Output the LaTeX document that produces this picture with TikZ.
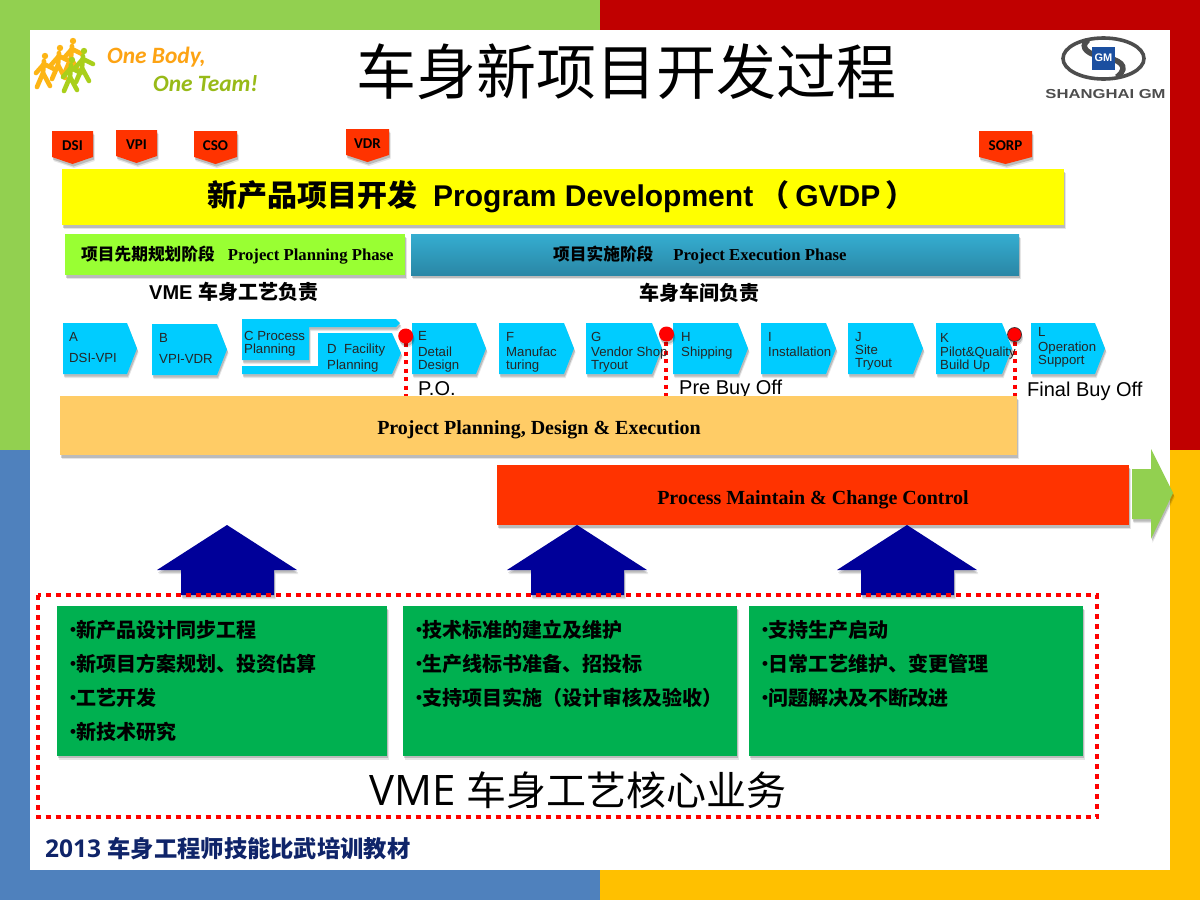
\documentclass[tikz,border=0pt]{standalone}
\usepackage{fontspec}
\setmainfont{Liberation Sans}
\newfontfamily\cjk{Noto Sans CJK SC}
\newfontfamily\calib{Carlito}
\newfontfamily\opens{Open Sans}
\newfontfamily\timesb{Liberation Serif}
\usetikzlibrary{shadows,shapes.geometric}
\definecolor{wingreen}{HTML}{92D050}
\definecolor{winred}{HTML}{C00000}
\definecolor{winblue}{HTML}{4F81BD}
\definecolor{wingold}{HTML}{FFC000}
\definecolor{flagred}{HTML}{FF3300}
\definecolor{stepblue}{HTML}{00CCFF}
\definecolor{planorange}{HTML}{FFCC66}
\definecolor{taskgreen}{HTML}{00B050}
\definecolor{navyup}{HTML}{000099}
\definecolor{limebar}{HTML}{99FF33}
\definecolor{tealtop}{HTML}{35ADD0}
\definecolor{tealbot}{HTML}{2A87A6}
\definecolor{runorange}{HTML}{FDB515}
\definecolor{rungreen}{HTML}{A9CF1B}
\definecolor{pureyellow}{HTML}{FFFF00}
\definecolor{purered}{HTML}{FF0000}
\definecolor{footnavy}{HTML}{0F2469}
\definecolor{gmgray}{HTML}{4D4D4D}
\definecolor{gmblue}{HTML}{1B4FA0}
\tikzset{
  softshadow/.style={drop shadow={shadow xshift=1.5pt,shadow yshift=-4pt,fill=black,opacity=.1},
    drop shadow={shadow xshift=1pt,shadow yshift=-2.5pt,fill=black,opacity=.18}},
  flagbox/.style={fill=flagred,softshadow},
  flagtext/.style={font=\calib\bfseries\fontsize{15}{15}\selectfont,text=black,inner sep=0pt},
  stepbox/.style={fill=stepblue,softshadow},
  steptext/.style={font=\fontsize{13.2}{13.2}\selectfont,align=left,anchor=north west,inner sep=0pt,text=black!85},
  pinball/.style={circle,fill=purered,minimum size=15pt,inner sep=0pt,softshadow},
  pinline/.style={draw=purered,line width=4pt,dash pattern=on 4pt off 4.5pt},
  cntext/.style={font=\cjk\bfseries\fontsize{20}{24}\selectfont,align=left,anchor=north west,inner sep=0pt},
  taskbox/.style={fill=taskgreen,minimum height=149.5pt,inner sep=0pt,anchor=north west,softshadow},
  upbox/.style={fill=navyup,softshadow},
  buyoff/.style={font=\fontsize{20}{20}\selectfont,inner sep=0pt,anchor=base west},
  runner/.style={line cap=round,line join=round,line width=4.6pt},
}
\newcommand{\bul}{{\rmfamily\fontsize{17}{17}\selectfont\raisebox{2pt}{•}}\kern.5pt}
% one flag on top of the yellow bar
\newcommand{\flag}[5]{
  \path[flagbox] (#1,#2) -- (#1+#3,#2) -- (#1+#3,#2+26) -- (#1+#3/2,#2+33) -- (#1,#2+26) -- cycle;
  \node[flagtext] (#4) at (#1+#3/2,#2+14.5) {#5};
}
% one step of the process row
\newcommand{\stepshape}[6]{
  \path[stepbox] (#1,#2) -- (#3-10,#2) -- (#3,#2+25.5) -- (#3-10,#2+51) -- (#1,#2+51) -- cycle;
  \node[steptext] (#4) at (#1+#5,#2+#6) 
}
\begin{document}
\begin{tikzpicture}[x=1pt,y=-1pt]
\useasboundingbox (0,0) rectangle (1200,900);
% window background
\fill[wingreen] (0,0) rectangle (600,450);
\fill[winred] (600,0) rectangle (1200,450);
\fill[winblue] (0,450) rectangle (600,900);
\fill[wingold] (600,450) rectangle (1200,900);
\fill[white] (30,30) rectangle (1170,870);

% logo left
\foreach \hx/\hy/\col in {45/56/runorange,60/48/runorange,73/41/runorange,72/60/rungreen,84/51/rungreen}{
  \fill[\col] (\hx,\hy) circle (3.2pt);
  \draw[runner,\col] (\hx-1,\hy+5) -- (\hx-2,\hy+17) -- (\hx-8,\hy+31);
  \draw[runner,\col] (\hx-2,\hy+17) -- (\hx+5,\hy+30);
  \draw[runner,\col] (\hx-9,\hy+17) -- (\hx-1,\hy+8) -- (\hx+9,\hy+13);
}
\node[font=\calib\bfseries\itshape\fontsize{23.4}{23.4}\selectfont,text=runorange!90!red,anchor=base west,inner sep=0pt] (bodytext) at (107,63) {One Body,};
\node[font=\calib\bfseries\itshape\fontsize{23.4}{23.4}\selectfont,text=rungreen!90!black,anchor=base west,inner sep=0pt] (teamtext) at (153,91) {One Team!};

% title
\node[font=\cjk\fontsize{60}{60}\selectfont,inner sep=0pt] (title) at (626,72) {车身新项目开发过程};

% logo right
\draw[gmgray,line width=3.6pt] (1103.5,58.5) ellipse (40.5pt and 20.5pt);
\draw[gmgray,line width=5.5pt] (1088,40) .. controls (1078,48) and (1090,55) .. (1103,57) .. controls (1118,59) and (1131,66) .. (1117,77);
\fill[gmblue] (1092,47) rectangle (1115,70);
\node[font=\bfseries\fontsize{11}{11}\selectfont,text=white,inner sep=0pt] (gmtext) at (1103.5,58) {GM};
\node[font=\bfseries\fontsize{13}{13}\selectfont,text=gmgray,inner sep=0pt,anchor=base] (sgmtext) at (1105.5,98) {\scalebox{1.28}[1]{SHANGHAI GM}};

% flags
\flag{52}{131}{41}{dsi}{DSI}
\flag{116}{130}{41}{vpi}{VPI}
\flag{194}{131}{43}{cso}{CSO}
\flag{346}{129}{43}{vdr}{VDR}
\flag{979}{131}{53}{sorp}{SORP}

% main bars
\path[fill=pureyellow,softshadow] (62,169) rectangle (1064,225);
\node[font=\bfseries\fontsize{30}{30}\selectfont,inner sep=0pt,anchor=west] (gvdp) at (207,196.5) {{\cjk\bfseries 新产品项目开发}\hspace{16pt}Program Development\hspace{6pt}{\cjk\bfseries（}\hspace{6pt}GVDP\hspace{5pt}{\cjk\bfseries ）}};
\path[fill=limebar,softshadow] (65,234) rectangle (405,275);
\node[font=\timesb\bfseries\fontsize{16.7}{17}\selectfont,inner sep=0pt,anchor=west] (planphase) at (81,255) {{\cjk\bfseries 项目先期规划阶段}\hspace{13pt}Project Planning Phase};
\path[top color=tealtop,bottom color=tealbot,softshadow] (411,234) rectangle (1019,275);
\node[font=\timesb\bfseries\fontsize{16.7}{17}\selectfont,inner sep=0pt,anchor=west] (execphase) at (553,255) {{\cjk\bfseries 项目实施阶段}\hspace{20pt}Project Execution Phase};
\node[font=\bfseries\fontsize{20}{20}\selectfont,inner sep=0pt,anchor=west] (vmeresp) at (149,292) {VME {\cjk\bfseries 车身工艺负责}};
\node[font=\cjk\bfseries\fontsize{20}{20}\selectfont,inner sep=0pt] (shopresp) at (699,293) {车身车间负责};

% dotted lines under the pins
\coordinate (potop) at (405.7,343);
\coordinate (pretop) at (666,342);
\coordinate (finaltop) at (1014.7,342);
\coordinate (pofoot) at (405.7,396);
\coordinate (prefoot) at (666,396);
\coordinate (finalfoot) at (1014.7,396);
\draw[pinline] (potop) -- (pofoot);
\draw[pinline] (pretop) -- (prefoot);
\draw[pinline] (finaltop) -- (finalfoot);

% steps
\stepshape{63}{323}{137}{stepa}{6}{9}{A\\[8pt]DSI-VPI};
\stepshape{152}{324}{227}{stepb}{7}{9}{B\\[8pt]VPI-VDR};
\path[stepbox] (242,319) -- (396,319) -- (400,323) -- (396,327) -- (309,327) -- (309,360) -- (242,360) -- cycle;
\path[stepbox] (242,366) -- (318,366) -- (318,333) -- (392,333) -- (401,353) -- (392,374) -- (242,374) -- cycle;
\node[steptext] (stepc) at (244,331) {C Process\\Planning};
\node[steptext] (stepd) at (327,344) {D\ \ Facility\\[3pt]Planning};
\stepshape{412}{323}{486}{stepe}{6}{8}{E\\[3pt]Detail\\Design};
\stepshape{499}{323}{574}{stepf}{7}{9}{F\\[2pt]Manufac\\turing};
\stepshape{586}{323}{662}{stepg}{5}{9}{G\\[2pt]Vendor Shop\\Tryout};
\stepshape{673}{323}{748}{steph}{8}{9}{H\\[2pt]Shipping};
\stepshape{761}{323}{836}{stepi}{7}{9}{I\\[2pt]Installation};
\stepshape{848}{323}{923}{stepj}{7}{9}{J\\Site\\Tryout};
\stepshape{936}{323}{1012}{stepk}{4}{10}{K\\[1pt]Pilot\&Quality\\Build Up};
\stepshape{1031}{323}{1105}{stepl}{7}{4}{L\\[2pt]Operation\\Support};

% pins
\node[pinball] (pinpo) at (405.7,336) {};
\node[pinball] (pinpre) at (666.5,334) {};
\node[pinball,draw=black!80,line width=.7pt,minimum size=14pt] (pinfinal) at (1014.5,334.5) {};
\node[buyoff] (potext) at (418,395) {P.O.};
\node[buyoff] (pretext) at (679,394) {Pre Buy Off};
\node[buyoff] (finaltext) at (1027,396) {Final Buy Off};

% lower bars
\path[fill=planorange,softshadow] (60,396) rectangle (1017,455);
\node[font=\timesb\bfseries\fontsize{20}{20}\selectfont,inner sep=0pt] (plantext) at (539,430) {Project Planning, Design \& Execution};
\path[fill=flagred,softshadow] (497,465) rectangle (1129,525);
\node[font=\timesb\bfseries\fontsize{20}{20}\selectfont,inner sep=0pt] (maintext) at (813,499.5) {Process Maintain \& Change Control};
\path[fill=wingreen,softshadow] (1132,469) -- (1151,469) -- (1151,449) -- (1173,493) -- (1151,539) -- (1151,519) -- (1132,519) -- cycle;

% up arrows
\foreach \ux in {227,577,907}{
  \path[upbox] (\ux-70,570) -- (\ux,525) -- (\ux+70,570) -- (\ux+47,570) -- (\ux+47,595) -- (\ux-46,595) -- (\ux-46,570) -- cycle;
}

% green boxes
\node[taskbox,minimum width=330pt] (taska) at (57,606) {};
\node[taskbox,minimum width=334pt] (taskb) at (403,606) {};
\node[taskbox,minimum width=334pt] (taskc) at (749,606) {};
\node[cntext] (texta) at (70,620) {\bul 新产品设计同步工程\\[10pt]\bul 新项目方案规划、投资估算\\[10pt]\bul 工艺开发\\[10pt]\bul 新技术研究};
\node[cntext] (textb) at (416,620) {\bul 技术标准的建立及维护\\[10pt]\bul 生产线标书准备、招投标\\[10pt]\bul 支持项目实施（设计审核及验收）};
\node[cntext] (textc) at (762,620) {\bul 支持生产启动\\[10pt]\bul 日常工艺维护、变更管理\\[10pt]\bul 问题解决及不断改进};

% red frame
\draw[purered,line width=4pt,dash pattern=on 5pt off 5pt] (37.5,595) rectangle (1097,817);
\node[font=\cjk\fontsize{40}{40}\selectfont,inner sep=0pt,anchor=west] (coretext) at (369,790) {{\opens\fontsize{42}{42}\selectfont VME}\hspace{2pt} 车身工艺核心业务};
\node[font=\opens\bfseries\fontsize{24.5}{24.5}\selectfont,text=footnavy,inner sep=0pt,anchor=west] (footer) at (45,849) {2013 {\cjk\bfseries\fontsize{23.3}{24}\selectfont 车身工程师技能比武培训教材}};
\end{tikzpicture}
\end{document}
